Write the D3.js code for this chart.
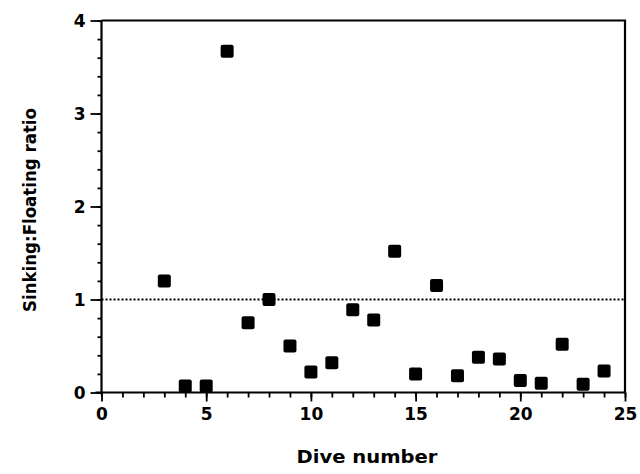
<!DOCTYPE html>
<html><head><meta charset="utf-8">
<script src="https://cdn.jsdelivr.net/npm/d3@7"></script>
<style>body{margin:0;background:#fff}svg{display:block}</style>
</head><body>
<script>
const diveNumbers = [3,4,5,6,7,8,9,10,11,12,13,14,15,16,17,18,19,20,21,22,23,24];
const ratios = [1.20,0.07,0.07,3.67,0.75,1.00,0.50,0.22,0.32,0.89,0.78,1.52,0.20,1.15,0.18,0.38,0.36,0.13,0.10,0.52,0.09,0.23];
const xTicks = [0,5,10,15,20,25];
const yTicks = [0,1,2,3,4];
const refValue = 1;

const W = 640, H = 474;
const svg = d3.select("body").append("svg").attr("width", W).attr("height", H);
const x = d3.scaleLinear().domain([0,25]).range([101.5, 625]);
const y = d3.scaleLinear().domain([0,4]).range([392.5, 20.5]);
const font = "'DejaVu Sans', sans-serif";

// frame top/right
svg.append("path")
  .attr("d", `M${x(0)},${y(4)}H${x(25)}V${y(0)}`)
  .attr("fill","none").attr("stroke","#000").attr("stroke-width",2.2);

// reference dotted line
svg.append("line")
  .attr("x1", x(0)).attr("x2", x(25)).attr("y1", y(refValue)).attr("y2", y(refValue))
  .attr("stroke","#000").attr("stroke-width",2).attr("stroke-dasharray","2,2");

// x axis minor ticks
const xa = svg.append("g").attr("transform", `translate(0,${y(0)})`);
xa.call(d3.axisBottom(x).tickValues(d3.range(0,26,1)).tickSize(5).tickFormat(""))
  .call(g => g.select(".domain").remove());
const xb = svg.append("g").attr("transform", `translate(0,${y(0)})`);
xb.call(d3.axisBottom(x).tickValues(xTicks).tickSize(9).tickPadding(7).tickFormat(d3.format("d")));
xb.select(".domain").attr("stroke-width",2.2).attr("d", `M${x(0)-6},0H${x(25)}`);

// y axis minor ticks
const ya = svg.append("g").attr("transform", `translate(${x(0)},0)`);
ya.call(d3.axisLeft(y).tickValues(d3.range(0,4.01,0.2)).tickSize(4).tickFormat(""))
  .call(g => g.select(".domain").remove());
const yb = svg.append("g").attr("transform", `translate(${x(0)},0)`);
yb.call(d3.axisLeft(y).tickValues(yTicks).tickSize(11).tickPadding(5).tickFormat(d3.format("d")));
yb.select(".domain").attr("stroke-width",2.2).attr("d", `M0,${y(0)+2}V${y(4)}`);
svg.selectAll("g line").attr("stroke-width",1.8);

svg.selectAll(".tick text").attr("font-family", font).attr("font-weight","bold")
  .attr("font-size", 17).attr("fill","#000");
yb.selectAll(".tick text").attr("dy","0.36em");
xb.selectAll(".tick text").attr("dy","0.7em");

// markers
const s = 13;
svg.append("g").selectAll("rect").data(diveNumbers).join("rect")
  .attr("x", (d) => x(d) - s/2)
  .attr("y", (d,i) => y(ratios[i]) - s/2)
  .attr("width", s).attr("height", s).attr("rx", 2)
  .attr("fill","#000");

// axis titles
svg.append("text").text("Dive number")
  .attr("x", 367).attr("y", 463).attr("text-anchor","middle")
  .attr("font-family", font).attr("font-weight","bold").attr("font-size",18)
  .attr("textLength",141).attr("lengthAdjust","spacingAndGlyphs");
svg.append("text").text("Sinking:Floating ratio")
  .attr("transform","translate(36,210) rotate(-90)").attr("text-anchor","middle")
  .attr("font-family", font).attr("font-weight","bold").attr("font-size",17)
  .attr("textLength",204).attr("lengthAdjust","spacingAndGlyphs");
</script>
</body></html>
